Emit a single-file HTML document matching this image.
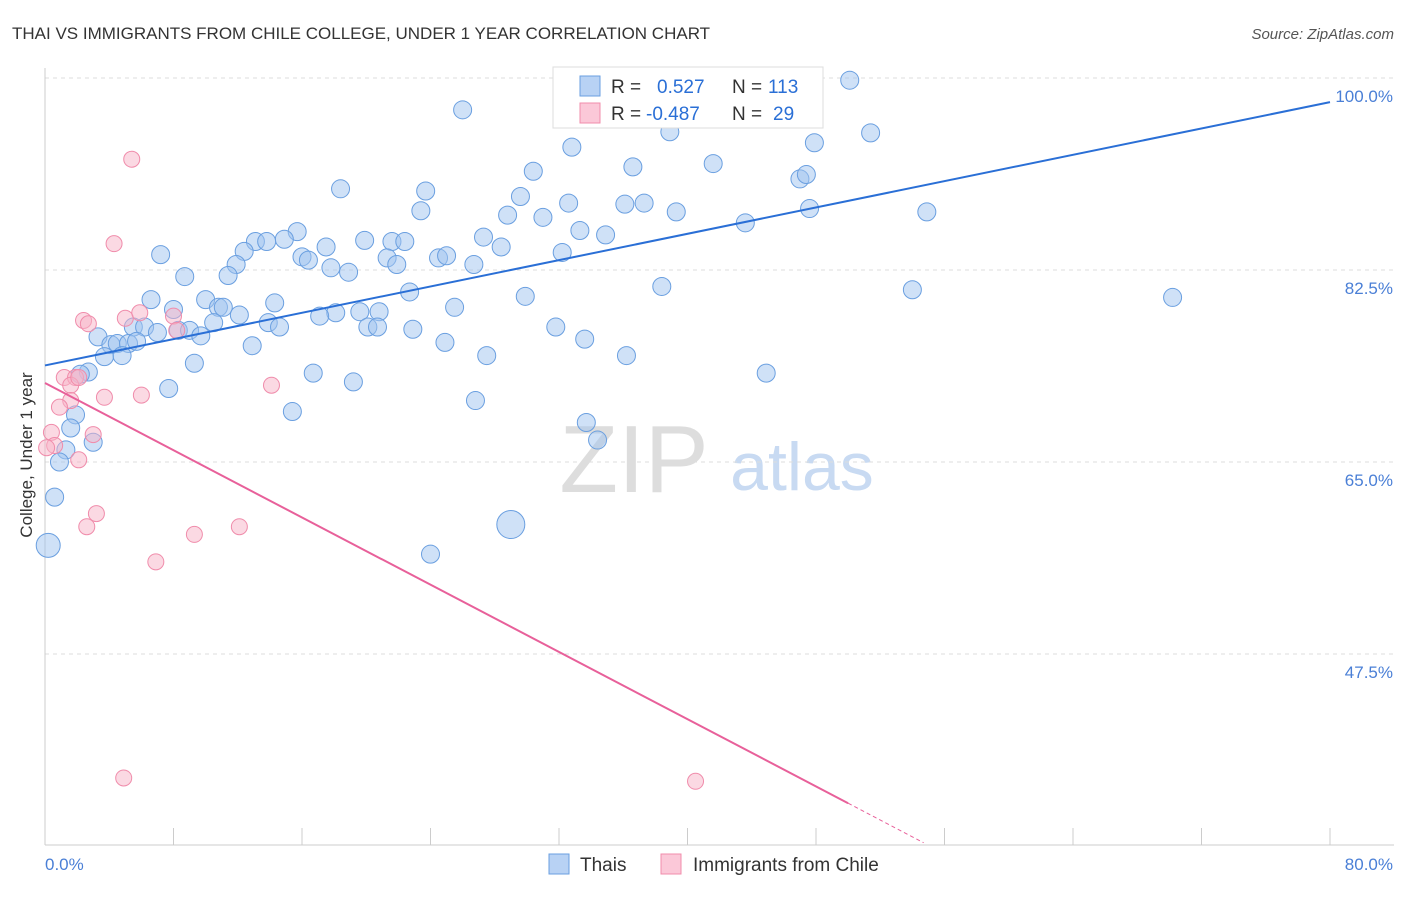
<!DOCTYPE html>
<html><head><meta charset="utf-8"><style>
body{margin:0;background:#fff;font-family:"Liberation Sans",sans-serif}
svg text{font-family:"Liberation Sans",sans-serif}
</style></head><body>
<svg id="c" width="1406" height="892" xmlns="http://www.w3.org/2000/svg">
<text x="12" y="39" font-size="17" fill="#333">THAI VS IMMIGRANTS FROM CHILE COLLEGE, UNDER 1 YEAR CORRELATION CHART</text>
<text x="1394" y="39" font-size="15" fill="#555" text-anchor="end" font-style="italic">Source: ZipAtlas.com</text>
<g>
<text x="634" y="492" font-size="96" fill="#ddd" text-anchor="middle" font-family="Liberation Serif, serif">ZIP</text>
<text x="802" y="490" font-size="68" fill="#c8daf2" text-anchor="middle">atlas</text>
</g>
<g id="grid"></g><g id="pts"></g><g id="lines"></g>
<text x="32" y="455" font-size="17" fill="#333" text-anchor="middle" transform="rotate(-90 32 455)">College, Under 1 year</text>
<text x="45" y="870" font-size="17" fill="#4a7fd6">0.0%</text>
<text x="1393" y="870" font-size="17" fill="#4a7fd6" text-anchor="end">80.0%</text>
<g>
<rect x="553" y="67" width="270" height="61" fill="#fff" stroke="#ddd"/>
<rect x="580" y="76" width="20" height="20" fill="#b8d2f4" stroke="#6a9fe0"/>
<rect x="580" y="103" width="20" height="20" fill="#fbc8d8" stroke="#f08cab"/>
<text x="611" y="93" font-size="19" fill="#333">R =</text><text x="657" y="93" font-size="19" fill="#2a6fd6">0.527</text>
<text x="732" y="93" font-size="19" fill="#333">N =</text><text x="768" y="93" font-size="19" fill="#2a6fd6">113</text>
<text x="611" y="120" font-size="19" fill="#333">R =</text><text x="646" y="120" font-size="19" fill="#2a6fd6">-0.487</text>
<text x="732" y="120" font-size="19" fill="#333">N =</text><text x="773" y="120" font-size="19" fill="#2a6fd6">29</text>
</g>
<g>
<rect x="549" y="854" width="20" height="20" fill="#b8d2f4" stroke="#6a9fe0"/>
<text x="580" y="871" font-size="19" fill="#333">Thais</text>
<rect x="661" y="854" width="20" height="20" fill="#fbc8d8" stroke="#f08cab"/>
<text x="693" y="871" font-size="19" fill="#333">Immigrants from Chile</text>
</g>
</svg>
<script>
const yTicks=[100,82.5,65,47.5];
const yTickLabels=["100.0%","82.5%","65.0%","47.5%"];
const xTicks=[0,8,16,24,32,40,48,56,64,72,80];
const thaiX=[50.1,26.0,38.9,51.4,32.8,47.9,36.6,30.4,41.6,47.0,47.4,18.4,23.7,29.6,32.6,36.1,37.3,23.4,28.8,31.0,39.3,47.6,54.9,15.7,14.9,19.9,21.6,22.4,13.1,13.8,17.5,12.4,27.3,28.4,33.3,34.9,43.6,32.2,7.2,16.0,16.4,21.3,21.9,24.5,25.0,26.7,11.9,17.8,18.9,11.4,8.7,22.7,29.9,38.4,54.0,70.2,6.6,8.0,10.0,10.8,11.1,14.3,12.1,25.5,18.1,19.6,20.8,17.1,10.5,13.9,14.6,20.1,20.7,22.9,31.8,5.5,6.2,7.0,8.3,9.0,9.7,3.3,4.1,4.5,5.2,5.7,12.9,24.9,33.6,3.7,4.8,27.5,36.2,9.3,16.7,2.7,2.2,44.9,7.7,19.2,26.8,15.4,1.9,1.6,33.7,34.4,3.0,1.3,0.9,0.6,0.2,29.0,24.0];
const thaiY=[99.8,97.1,95.1,95.0,93.7,94.1,91.9,91.5,92.2,90.8,91.2,89.9,89.7,89.2,88.6,88.5,88.6,87.9,87.5,87.3,87.8,88.1,87.8,86.0,85.3,85.2,85.1,85.1,85.1,85.1,84.6,84.2,85.5,84.6,86.1,85.7,86.8,84.1,83.9,83.7,83.4,83.6,83.0,83.6,83.8,83.0,83.0,82.7,82.3,82.0,81.9,80.5,80.1,81.0,80.7,80.0,79.8,78.9,79.8,79.1,79.1,79.5,78.4,79.1,78.6,78.7,78.7,78.3,77.7,77.7,77.3,77.3,77.3,77.1,77.3,77.3,77.3,76.8,77.0,77.0,76.5,76.4,75.7,75.8,75.8,76.0,75.6,75.9,76.2,74.6,74.7,74.7,74.7,74.0,73.1,73.2,73.0,73.1,71.7,72.3,70.6,69.6,69.3,68.1,68.6,67.0,66.8,66.1,65.0,61.8,57.4,59.3,56.6];
const chileX=[5.4,4.3,2.4,2.7,5.0,5.9,8.0,8.2,1.2,1.9,1.6,2.1,14.1,3.7,6.0,1.6,0.9,0.4,0.6,0.1,3.0,2.1,3.2,2.6,12.1,9.3,6.9,4.9,40.5];
const chileY=[92.6,84.9,77.9,77.6,78.1,78.6,78.3,77.0,72.7,72.7,72.0,72.7,72.0,70.9,71.1,70.6,70.0,67.7,66.5,66.3,67.5,65.2,60.3,59.1,59.1,58.4,55.9,36.2,35.9];
const thaiTrend=[73.8,0.30];   // intercept, slope
const chileTrend=[72.2,-0.766];
const NS="http://www.w3.org/2000/svg";
const X=v=>45+v*1285/80, Y=v=>78+(100-v)*192/17.5;
function mk(t,a,p){const e=document.createElementNS(NS,t);for(const k in a)e.setAttribute(k,a[k]);p.appendChild(e);return e;}
const grid=document.getElementById('grid');
yTicks.forEach((t,i)=>{
 const l=mk('line',{x1:45,x2:1394,y1:Y(t),y2:Y(t),stroke:'#ddd','stroke-dasharray':'4,4'},grid);
 
 
 const tx=mk('text',{x:1393,y:Y(t)+24,'font-size':17,fill:'#4a7fd6','text-anchor':'end'},grid);
 tx.textContent=yTickLabels[i];
 
 
});
const ax=mk('line',{x1:45,x2:45,y1:68,y2:845,stroke:'#ccc'},grid);


const bx=mk('line',{x1:45,x2:1394,y1:845,y2:845,stroke:'#ccc'},grid);


xTicks.forEach(t=>{
 const l=mk('line',{x1:X(t),x2:X(t),y1:828,y2:845,stroke:'#ccc'},grid);
 
 
});
const pts=document.getElementById('pts');
thaiX.forEach((x,i)=>{
 const r=i==thaiX.length-3?12:(i==thaiX.length-2?14:9);
 const c=mk('circle',{cx:X(x),cy:Y(thaiY[i]),r:r,fill:'rgba(160,196,240,0.5)',stroke:'#6a9fe0','stroke-width':1},pts);
 
 
});
chileX.forEach((x,i)=>{
 const c=mk('circle',{cx:X(x),cy:Y(chileY[i]),r:8,fill:'rgba(248,180,200,0.5)',stroke:'#f08cab','stroke-width':1},pts);
 
 
});
const lines=document.getElementById('lines');
const tl=mk('line',{x1:X(0),y1:Y(thaiTrend[0]),x2:X(80),y2:Y(thaiTrend[0]+80*thaiTrend[1]),stroke:'#2a6fd6','stroke-width':2},lines);


const cl=mk('line',{x1:X(0),y1:Y(chileTrend[0]),x2:X(50),y2:Y(chileTrend[0]+50*chileTrend[1]),stroke:'#e8609a','stroke-width':2},lines);


const cd=mk('line',{x1:X(50),y1:Y(chileTrend[0]+50*chileTrend[1]),x2:X(54.7),y2:Y(chileTrend[0]+54.7*chileTrend[1]),stroke:'#e8609a','stroke-width':1,'stroke-dasharray':'4,3'},lines);


</script>
</body></html>
